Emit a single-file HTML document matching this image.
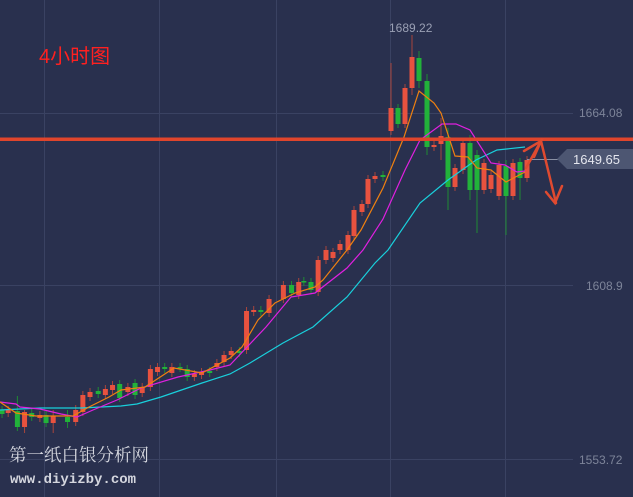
<!DOCTYPE html>
<html><head><meta charset="utf-8"><style>
html,body{margin:0;padding:0;background:#29304e;overflow:hidden}
svg{display:block}
</style></head><body>
<svg id="s" width="633" height="497" xmlns="http://www.w3.org/2000/svg">
<rect width="633" height="497" fill="#29304e"/>
<g stroke="#3a4262" stroke-width="1">
<line x1="44.5" y1="0" x2="44.5" y2="497"/><line x1="159.5" y1="0" x2="159.5" y2="497"/>
<line x1="276.5" y1="0" x2="276.5" y2="497"/><line x1="390.5" y1="0" x2="390.5" y2="497"/>
<line x1="505.5" y1="0" x2="505.5" y2="497"/>
<line x1="0" y1="113.5" x2="573" y2="113.5"/><line x1="0" y1="285.5" x2="573" y2="285.5"/><line x1="0" y1="459.5" x2="573" y2="459.5"/>
</g>
<g id="c"></g>
<g fill="none" stroke-width="1.2">
<polyline stroke="#19d0dc" points="0,410 40,408 81,408 121,406 137,404 161,397 202,383 230,374 250,363 283,343 313,327 347,297 375,263 388,250 420,203 448,180 476,160 497,150 525,147"/>
<polyline stroke="#e020e0" points="0,402 16,404 20,407 40,409 61,414 77,417 93,410 117,400 141,388 178,377 210,370 230,365 266,327 291,297 315,293 347,268 363,250 383,219 405,170 420,140 442,124 456,124 470,130 491,163 505,165 517,172 525,171"/>
<polyline stroke="#f08010" points="0,402 16,413 36,416 73,416 89,407 109,397 121,390 145,387 174,368 202,373 230,358 242,347 258,320 275,303 295,293 315,287 323,280 347,250 361,230 383,188 404,137 419,91 434,103 441,113 455,156 468,157 477,168 491,170 506,182 525,172"/>
</g>
<rect x="0" y="137.5" width="633" height="3.5" fill="#e0452c"/>
<line x1="527" y1="159.5" x2="558" y2="159.5" stroke="#8a90a4"/>
<polygon points="557,159 567,149 633,149 633,169 567,169" fill="#4d5672"/>
<text x="573" y="164" font-family="Liberation Sans, sans-serif" font-size="13" fill="#e4e6ee">1649.65</text>
<g stroke="#e04a30" stroke-width="2.5" fill="none" stroke-linecap="round">
<polyline points="526,168 541,141 556,203"/>
<polyline points="524,151 541,141 534,157"/>
<polyline points="546,192 555,203 562,186"/>
</g>
<g font-family="Liberation Sans, sans-serif" font-size="12" fill="#7d8499">
<text x="579" y="117">1664.08</text><text x="586" y="290">1608.9</text><text x="579" y="464">1553.72</text>
</g>
<text x="389" y="32" font-family="Liberation Sans, sans-serif" font-size="12" fill="#9aa0b4">1689.22</text>
<text x="39" y="63" font-family="Liberation Sans, 'Noto Sans CJK SC', sans-serif" font-size="20" fill="#ff2020">4小时图</text>
<text x="9" y="461" font-family="'Noto Serif CJK SC', serif" font-size="17.5" fill="#d4d6de">第一纸白银分析网</text>
<text x="10" y="483" font-family="Liberation Mono, monospace" font-size="14" font-weight="bold" fill="#d4d6de">www.diyizby.com</text>
</svg>
<script>
var B=[[2,410,414,'g'],[8,410,413,'r'],[17,411,427,'g',396,431],[24,412,427,'r',410,433],[31,413,417,'g'],[39,415,418,'r'],[45,415,423,'g'],[52,416,423,'r',410,433],[66,417,422,'g',410,428],[74,410,422,'r',405,426],[81,395,412,'r'],[88,392,397,'r'],[96,391,394,'g'],[103,389,395,'r'],[110,385,390,'r'],[117,384,398,'g'],[125,387,392,'r'],[132,383,395,'g'],[139,387,393,'r'],[147,369,387,'r'],[154,367,372,'r'],[161,367,369,'g'],[168,367,373,'r'],[176,367,368,'g'],[183,369,377,'g'],[190,374,377,'r'],[197,372,375,'r'],[205,371,373,'g'],[212,363,367,'r'],[219,355,362,'r'],[226,351,355,'r'],[234,351,353,'g'],[241,311,350,'r'],[248,310,312,'r'],[255,310,312,'g'],[263,299,313,'r'],[277,285,299,'r'],[285,285,293,'g'],[292,282,295,'r'],[297,281,282,'g'],[304,282,290,'g'],[311,260,292,'r']];
var T=[[326,250,260,'r'],[333,252,258,'r'],[340,244,250,'r'],[348,235,250,'r'],[354,210,236,'r'],[362,204,212,'r'],[368,179,204,'r'],[375,176,179,'r'],[383,175,177,'g'],[391,108,131,'r',63,135],[398,108,124,'g'],[405,88,124,'r'],[412,57,88,'r',35,95],[419,58,81,'g',51,88],[427,81,147,'g',74,155],[434,145,147,'r'],[441,136,144,'r',118,160],[448,137,187,'g',128,210],[455,168,187,'r'],[463,143,170,'r'],[470,143,190,'g',135,200],[477,155,190,'g',150,233],[484,163,190,'r'],[491,175,189,'r'],[499,165,196,'r'],[506,166,196,'g',160,235],[513,163,196,'r'],[520,162,178,'g',158,200],[527,160,178,'r']];
var all=B.map(function(a){a=a.slice();a[0]=a[0]*1.023;return a}).concat(T);
var h='';
all.forEach(function(a){var x=a[0],o=a[1],c=a[2],col=a[3]=='r'?'#e8523f':'#22b23a',wc=a[3]=='r'?'#a8453c':'#1f8a34';
var wt=a[4]||o-4,wb=a[5]||c+4;
h+='<line x1="'+x+'" y1="'+wt+'" x2="'+x+'" y2="'+wb+'" stroke="'+wc+'" stroke-width="1"/>';
h+='<rect x="'+(x-2.5)+'" y="'+o+'" width="5" height="'+Math.max(1.5,c-o)+'" fill="'+col+'"/>';});
document.getElementById('c').innerHTML=h;
</script>
</body></html>
